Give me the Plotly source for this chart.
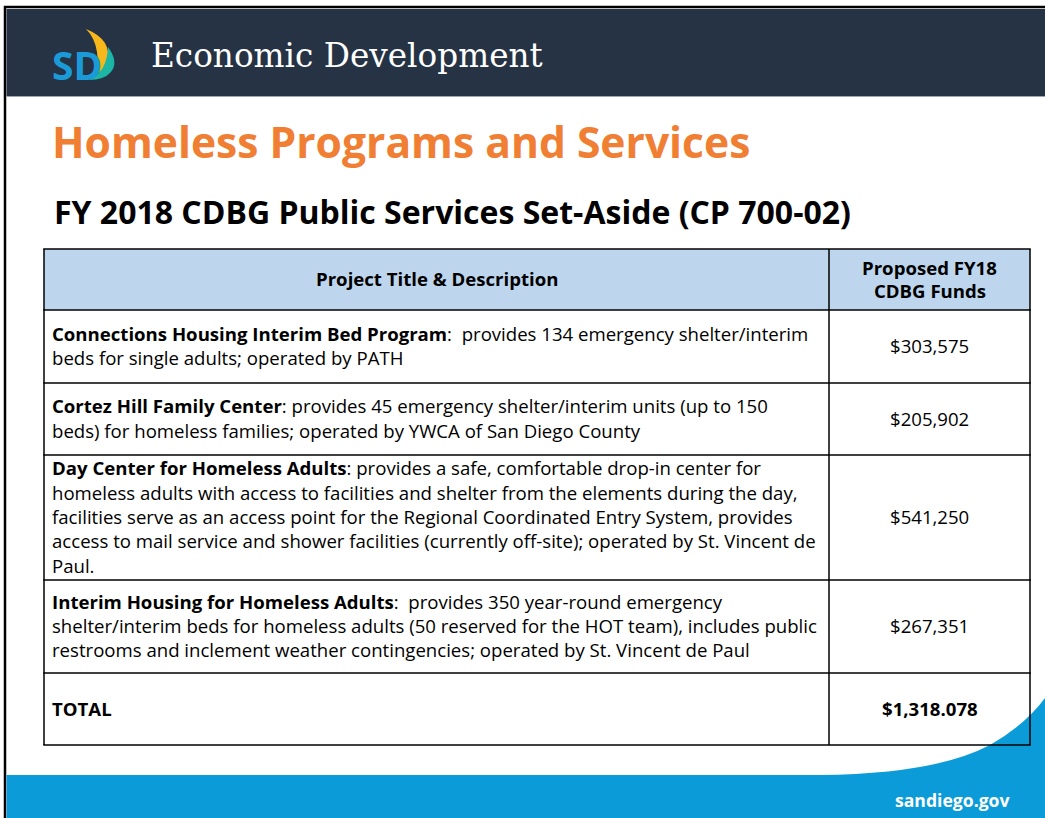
import plotly.graph_objects as go

# ---------------- data ----------------
header_left = "Project Title & Description"
header_right = ["Proposed FY18", "CDBG Funds"]
project_names = [
    "Connections Housing Interim Bed Program",
    "Cortez Hill Family Center",
    "Day Center for Homeless Adults",
    "Interim Housing for Homeless Adults",
]
project_desc_lines = [
    [":  provides 134 emergency shelter/interim",
     "beds for single adults; operated by PATH"],
    [": provides 45 emergency shelter/interim units (up to 150",
     "beds) for homeless families; operated by YWCA of San Diego County"],
    [": provides a safe, comfortable drop-in center for",
     "homeless adults with access to facilities and shelter from the elements during the day,",
     "facilities serve as an access point for the Regional Coordinated Entry System, provides",
     "access to mail service and shower facilities (currently off-site); operated by St. Vincent de",
     "Paul."],
    [":  provides 350 year-round emergency",
     "shelter/interim beds for homeless adults (50 reserved for the HOT team), includes public",
     "restrooms and inclement weather contingencies; operated by St. Vincent de Paul"],
]
funds = ["$303,575", "$205,902", "$541,250", "$267,351"]
total_label = "TOTAL"
total_value = "$1,318.078"

page_title = "Economic Development"
main_title = "Homeless Programs and Services"
sub_title = "FY 2018 CDBG Public Services Set-Aside (CP 700-02)"
footer = "sandiego.gov"

# ---------------- layout constants ----------------
W, H = 1045, 818
SANS = "Open Sans"
FS = 18.6
TX0, TX1, TXC = 44, 1030, 829
row_edges = [249, 310, 383, 455, 580, 673, 745]
LINE_H = 24.3

fig = go.Figure()
shapes = []
ann = []

def A(x, y, text, size, color="black", xanchor="left", family=SANS, yanchor="middle"):
    ann.append(dict(x=x, y=y, xref="x", yref="y", text=text, showarrow=False,
                    xanchor=xanchor, yanchor=yanchor,
                    font=dict(family=family, size=size, color=color)))

# background frame
shapes.append(dict(type="rect", x0=5, x1=W + 5, y0=7, y1=H + 5, fillcolor="white",
                   line=dict(color="black", width=2.5), layer="below"))
# header band
shapes.append(dict(type="rect", x0=6.5, x1=W, y0=9, y1=96, fillcolor="#253345",
                   line=dict(width=0), layer="below"))
shapes.append(dict(type="line", x0=6.5, x1=W, y0=96.5, y1=96.5,
                   line=dict(color="#9AA6B2", width=1), layer="below"))

# footer blue with curve
shapes.append(dict(type="path",
                   path="M 6.5,775 L 820,775 Q 935,774 990,745 Q 1025,725 1045,698 L 1045,818 L 6.5,818 Z",
                   fillcolor="#0A9BD8", line=dict(width=0), layer="below"))

# logo
shapes.append(dict(type="path",
                   path="M 86,29 Q 113,40 107,62 Q 103,72 93,77 Q 99,64 97,52 Q 95,38 86,29 Z",
                   fillcolor="#F8B81C", line=dict(width=0), layer="below"))
shapes.append(dict(type="path",
                   path="M 108,47 Q 119,62 111,72 Q 104,80 89,80 Q 107,72 108,47 Z",
                   fillcolor="#1DB5A6", line=dict(width=0), layer="below"))
A(50, 64, "<b>SD</b>", 39, color="#1B9AD8")

A(149, 56, page_title, 32.7, color="white", family="DejaVu Serif")
A(50, 141, "<b>" + main_title + "</b>", 42.6, color="#F07E33")
A(52, 211, "<b>" + sub_title + "</b>", 32, color="black")

# table header fill
shapes.append(dict(type="rect", x0=TX0, x1=TX1, y0=row_edges[0], y1=row_edges[1],
                   fillcolor="#BDD6EE", line=dict(width=0), layer="below"))
# table lines
for y in row_edges:
    shapes.append(dict(type="line", x0=TX0 - 0.75, x1=TX1 + 0.75, y0=y, y1=y,
                       line=dict(color="black", width=1.5)))
for x in (TX0, TXC, TX1):
    shapes.append(dict(type="line", x0=x, x1=x, y0=row_edges[0], y1=row_edges[-1],
                       line=dict(color="black", width=1.5)))

# header text
hc = (row_edges[0] + row_edges[1]) / 2
A((TX0 + TXC) / 2, hc - 1, "<b>" + header_left + "</b>", FS, xanchor="center")
A((TXC + TX1) / 2, hc - 12.5, "<b>" + header_right[0] + "</b>", FS, xanchor="center")
A((TXC + TX1) / 2, hc + 10.5, "<b>" + header_right[1] + "</b>", FS, xanchor="center")

# body rows
for i, (name, lines, amt) in enumerate(zip(project_names, project_desc_lines, funds)):
    top, bot = row_edges[i + 1], row_edges[i + 2]
    mid = (top + bot) / 2
    n = len(lines)
    first = mid - (n - 1) * LINE_H / 2
    for j, line in enumerate(lines):
        txt = ("<b>" + name + "</b>" + line) if j == 0 else line
        A(50, first + j * LINE_H - 1, txt, FS)
    A((TXC + TX1) / 2, mid - 1, amt, FS, xanchor="center")

# total row
tt, tb = row_edges[-2], row_edges[-1]
A(50, (tt + tb) / 2 - 1, "<b>" + total_label + "</b>", FS)
A((TXC + TX1) / 2, (tt + tb) / 2 - 1, "<b>" + total_value + "</b>", FS, xanchor="center")

# footer text
A(1013, 800, "<b>" + footer + "</b>", 17.6, color="white", xanchor="right")

fig.update_layout(
    width=W, height=H,
    margin=dict(l=0, r=0, t=0, b=0),
    paper_bgcolor="white", plot_bgcolor="white",
    xaxis=dict(range=[0, W], visible=False, fixedrange=True),
    yaxis=dict(range=[H, 0], visible=False, fixedrange=True),
    shapes=shapes, annotations=ann, showlegend=False,
)
fig.write_html("out.html", config={"displayModeBar": False},
               post_script="document.body.style.margin='0';document.body.style.overflow='hidden';")
